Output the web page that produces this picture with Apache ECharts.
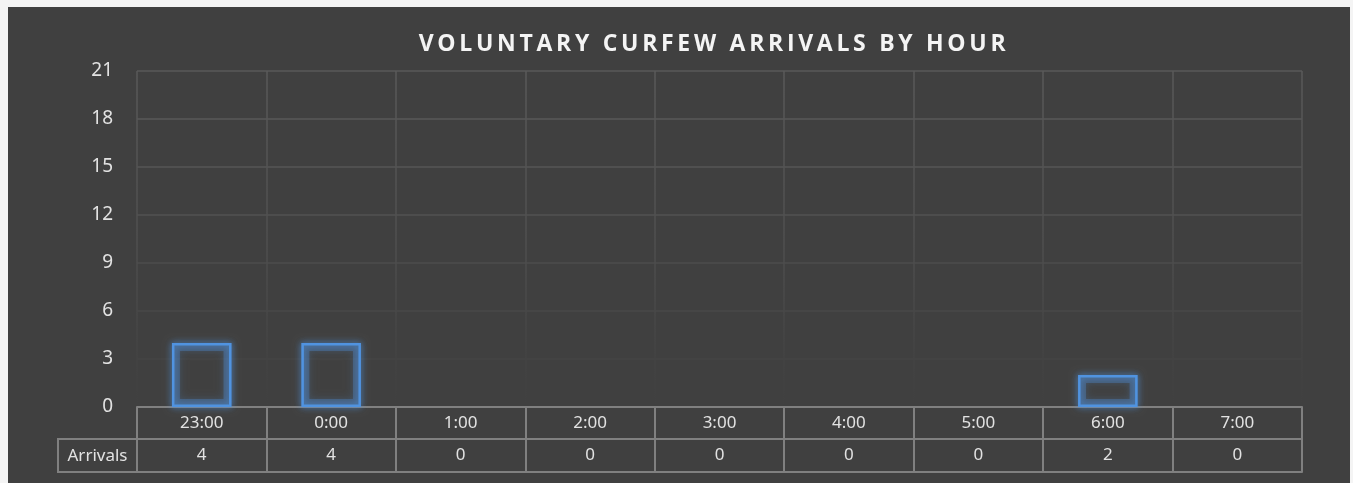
<!DOCTYPE html>
<html>
<head>
<meta charset="utf-8">
<script src="https://cdn.jsdelivr.net/npm/echarts@6/dist/echarts.min.js"></script>
<style>
  html, body { margin: 0; padding: 0; background: #f4f4f4; }
  #chart { position: absolute; left: 8px; top: 7px; width: 1342px; height: 476px; background: #404040; }
</style>
</head>
<body>
<div id="chart"></div>
<script>
const titleText = 'VOLUNTARY CURFEW ARRIVALS BY HOUR'
const hours = ['23:00', '0:00', '1:00', '2:00', '3:00', '4:00', '5:00', '6:00', '7:00']
const arrivals = [4, 4, 0, 0, 0, 0, 0, 2, 0]
const seriesName = 'Arrivals'
const yMin = 0, yMax = 21, yStep = 3

// layout (px inside the dark panel)
const G = { left: 129, right: 48, top: 64, bottom: 76 }
const W = 1342, H = 476
const rowH = 32
const tableColor = '#808080'
const textColor = '#e2e2e2'
const barBlue = '#5093e0'
const font = 'Noto Sans'

// canvas text has no letter-spacing option in echarts, give the title its tracking here
const _fillText = CanvasRenderingContext2D.prototype.fillText
CanvasRenderingContext2D.prototype.fillText = function (t, x, y, m) {
  if (t !== titleText) return _fillText.call(this, t, x, y, m)
  const prev = this.letterSpacing
  this.letterSpacing = '3.7px'
  _fillText.call(this, t, x, y, m)
  this.letterSpacing = prev
}

const chart = echarts.init(document.getElementById('chart'))

const zeroY = H - G.bottom
const gridFade = new echarts.graphic.LinearGradient(0, G.top, 0, zeroY, [
  { offset: 0, color: '#595959' },
  { offset: 0.5, color: '#4f4f4f' },
  { offset: 0.85, color: '#434343' },
  { offset: 1, color: '#404040' }
], true)

const barData = arrivals.map(v => (v === 0 ? null : v))

chart.setOption({
  backgroundColor: '#404040',
  animation: false,
  title: {
    text: titleText, left: 706, top: 26, textAlign: 'center', padding: 0,
    textStyle: { color: '#f4f4f4', fontFamily: 'Open Sans', fontWeight: 'bold', fontSize: 23 }
  },
  grid: { left: G.left, right: G.right, top: G.top, bottom: G.bottom, containLabel: false },
  xAxis: [
    {
      type: 'category', data: hours, position: 'bottom',
      axisLine: { show: true, lineStyle: { color: tableColor, width: 2 } },
      axisTick: { show: true, length: rowH, interval: 0, lineStyle: { color: tableColor, width: 2 } },
      axisLabel: { color: textColor, fontFamily: font, fontSize: 17, margin: 8, interval: 0 },
      splitLine: { show: true, interval: 0, lineStyle: { color: gridFade, width: 1.5 } }
    },
    {
      type: 'category', data: hours, position: 'bottom', offset: rowH,
      axisLine: { show: true, lineStyle: { color: tableColor, width: 2 } },
      axisTick: { show: true, length: rowH + 1, interval: 0, lineStyle: { color: tableColor, width: 2 } },
      axisLabel: { color: textColor, fontFamily: font, fontSize: 17, margin: 8, interval: 0,
        formatter: (v, i) => String(arrivals[i]) }
    },
    {
      type: 'category', data: hours, position: 'bottom', offset: rowH * 2 + 1,
      axisLine: { show: true, lineStyle: { color: tableColor, width: 2 } },
      axisTick: { show: false }, axisLabel: { show: false }
    }
  ],
  yAxis: {
    type: 'value', min: yMin, max: yMax, interval: yStep,
    axisLine: { show: false }, axisTick: { show: false },
    axisLabel: { color: textColor, fontFamily: font, fontSize: 19, margin: 24 },
    splitLine: { lineStyle: { width: 1.5,
      color: ['#404040', '#444444', '#484848', '#4d4d4d', '#525252', '#565656', '#585858', '#595959'] } }
  },
  series: [
    {
      // soft halo behind the outline
      name: seriesName, type: 'bar', xAxisIndex: 0, barWidth: '46%', barGap: '-100%', z: 1,
      data: barData, silent: true,
      itemStyle: {
        color: 'rgba(0,0,0,0)', borderColor: 'rgba(80,147,224,0.3)', borderWidth: 8,
        shadowColor: 'rgba(80,147,224,0.6)', shadowBlur: 8
      }
    },
    {
      name: seriesName, type: 'bar', xAxisIndex: 0, barWidth: '46%', barGap: '-100%', z: 2,
      data: barData,
      itemStyle: {
        color: 'rgba(0,0,0,0)', borderColor: barBlue, borderWidth: 2.5,
        shadowColor: 'rgba(80,147,224,0.9)', shadowBlur: 6
      }
    }
  ],
  graphic: [
    {
      type: 'rect', silent: true,
      shape: { x: 50, y: zeroY + rowH, width: G.left - 50, height: rowH + 1 },
      style: { fill: 'none', stroke: tableColor, lineWidth: 2 }
    },
    {
      type: 'text', silent: true,
      x: (50 + G.left) / 2, y: zeroY + rowH + rowH / 2 + 1,
      style: { text: seriesName, fill: textColor, font: '17px "Noto Sans"', align: 'center', verticalAlign: 'middle' }
    }
  ]
})
</script>
</body>
</html>
